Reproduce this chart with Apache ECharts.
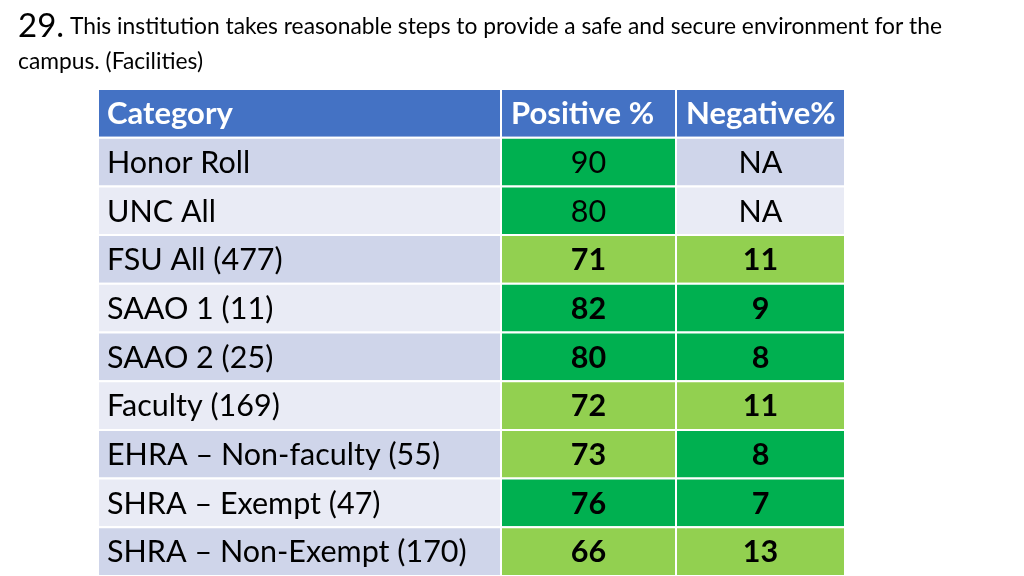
<!DOCTYPE html>
<html><head><meta charset="utf-8">
<script src="https://cdn.jsdelivr.net/npm/echarts@6/dist/echarts.min.js"></script>
<style>html,body{margin:0;padding:0;background:#fff}#c{width:1024px;height:576px}</style>
</head><body><div id="c"></div>
<script>
const titleNumber = '29.';
const titleLine1 = 'This institution takes reasonable steps to provide a safe and secure environment for the';
const titleLine2 = 'campus. (Facilities)';
const columns = ['Category', 'Positive %', 'Negative%'];
const categories = ['Honor Roll', 'UNC All', 'FSU All (477)', 'SAAO 1 (11)', 'SAAO 2 (25)', 'Faculty (169)', 'EHRA \u2013 Non-faculty (55)', 'SHRA \u2013 Exempt (47)', 'SHRA \u2013 Non-Exempt (170)'];
const positive = [90, 80, 71, 82, 80, 72, 73, 76, 66];
const negative = [null, null, 11, 9, 8, 11, 8, 7, 13];
const naLabel = 'NA';

// layout / style constants
const FONT = 'Lato, "Open Sans", sans-serif';
const colEdges = [98, 501, 676, 845];
const tableTop = 89, tableBottom = 576;
const C = { header: '#4472C4', bandA: '#CFD5EA', bandB: '#E9EBF5', dark: '#00B050', light: '#92D050' };
const rowsAll = ['header'].concat(categories);

function cellFill(col, r) {
  if (r === 0) return C.header;
  const i = r - 1;
  const band = i % 2 === 0 ? C.bandA : C.bandB;
  if (col === 0) return band;
  if (col === 1) return positive[i] >= 75 ? C.dark : C.light;
  if (negative[i] == null) return band;
  return negative[i] <= 10 ? C.dark : C.light;
}
function cellText(col, r) {
  if (r === 0) return columns[col];
  const i = r - 1;
  if (col === 0) return categories[i];
  if (col === 1) return String(positive[i]);
  return negative[i] == null ? naLabel : String(negative[i]);
}

const grids = [], xAxes = [], yAxes = [], series = [];
for (let c = 0; c < 3; c++) {
  grids.push({ left: colEdges[c], width: colEdges[c + 1] - colEdges[c], top: tableTop, height: tableBottom - tableTop });
  xAxes.push({ gridIndex: c, type: 'value', min: 0, max: 1, show: false });
  yAxes.push({ gridIndex: c, type: 'category', data: rowsAll, inverse: true, show: false });
  series.push({
    type: 'custom', xAxisIndex: c, yAxisIndex: c,
    data: rowsAll.map((_, r) => [0, r]),
    renderItem: function (params, api) {
      const r = api.value(1);
      const p0 = api.coord([0, r]);
      const p1 = api.coord([1, r]);
      const h = api.size([0, 1])[1];
      const x = p0[0], y = p0[1] - h / 2, w = p1[0] - p0[0];
      const isHeader = r === 0;
      const bold = isHeader || (r > 0 && negative[r - 1] != null && c > 0);
      const size = isHeader ? 31 : 30.5;
      const leftAlign = c === 0 || isHeader;
      return {
        type: 'group',
        children: [
          { type: 'rect', shape: { x: x, y: y, width: w, height: h },
            style: { fill: cellFill(c, r), stroke: '#ffffff', lineWidth: 2 } },
          { type: 'text',
            style: { text: cellText(c, r), x: leftAlign ? x + (c === 0 ? 9 : 10) : x + w / 2, y: p0[1] + 1,
              align: leftAlign ? 'left' : 'center', verticalAlign: 'middle',
              fill: isHeader ? '#ffffff' : '#000000',
              font: (bold ? 'bold ' : '') + size + 'px ' + FONT } }
        ]
      };
    }
  });
}

const chart = echarts.init(document.getElementById('c'), null, { renderer: 'canvas' });
chart.setOption({
  animation: false,
  backgroundColor: '#ffffff',
  title: {
    left: 13, top: 4,
    text: '{n|' + titleNumber + '}{t| ' + titleLine1 + '}\n{t|' + titleLine2 + '}',
    textStyle: {
      fontWeight: 'normal',
      rich: {
        n: { fontFamily: FONT, fontSize: 33, fontWeight: 'normal', color: '#000', lineHeight: 35 },
        t: { fontFamily: FONT, fontSize: 22.8, fontWeight: 'normal', color: '#000', lineHeight: 35 }
      }
    }
  },
  grid: grids, xAxis: xAxes, yAxis: yAxes, series: series
});
</script></body></html>
